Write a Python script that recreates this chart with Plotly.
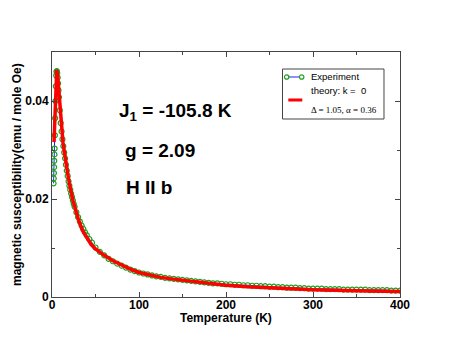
import plotly.graph_objects as go

# experiment: temperature (K) and susceptibility (emu / mole Oe)
exp_T = [1.8, 2.0, 2.2, 2.4, 2.6, 2.8, 3.0, 3.3, 3.6, 4.0, 4.4, 4.8, 5.2, 5.6, 6.0, 6.5,
         7.0, 7.5, 8.0, 9.0, 10, 11, 12, 13, 14, 15, 16, 17, 18, 19, 20, 21, 22, 23, 24,
         25, 26, 28, 30, 32, 34, 36, 38, 40, 43, 46, 50, 55, 60, 65, 70, 75, 80, 85, 90,
         95, 100, 105, 110, 115, 120, 125, 130, 135, 140, 145, 150, 155, 160, 165, 170,
         175, 180, 185, 190, 195, 200, 205, 210, 215, 220, 225, 230, 235, 240, 245, 250,
         255, 260, 265, 270, 275, 280, 285, 290, 295, 300, 305, 310, 315, 320, 325, 330,
         335, 340, 345, 350, 355, 360, 365, 370, 375, 380, 385, 390, 395, 400]
exp_chi = [0.0232, 0.0242, 0.0253, 0.0265, 0.0278, 0.0291, 0.0303, 0.0330, 0.0365, 0.0400,
           0.0430, 0.0452, 0.0460, 0.0461, 0.0457, 0.0448, 0.0436, 0.0422, 0.0408, 0.0381,
           0.0355, 0.0338, 0.0322, 0.0308, 0.0295, 0.0283, 0.0270, 0.0258, 0.0247, 0.0236,
           0.0227, 0.0219, 0.0211, 0.0204, 0.0197, 0.0190, 0.0184, 0.0173, 0.0163, 0.0154,
           0.0146, 0.0139, 0.0132, 0.0126, 0.0118, 0.0111, 0.0101, 0.0092, 0.0085, 0.0078,
           0.0073, 0.0068, 0.0064, 0.0060, 0.0056, 0.0053, 0.0050, 0.0048, 0.0046, 0.0044,
           0.0042, 0.0041, 0.0039, 0.0038, 0.0037, 0.0036, 0.0035, 0.0034, 0.0033, 0.0032,
           0.0031, 0.0030, 0.0029, 0.0028, 0.0028, 0.0027, 0.0026, 0.0026, 0.0025, 0.0025,
           0.0024, 0.0024, 0.0023, 0.0023, 0.0022, 0.0022, 0.0021, 0.0021, 0.0020, 0.0020,
           0.0019, 0.0019, 0.0019, 0.0018, 0.0018, 0.0017, 0.0017, 0.0017, 0.0017, 0.0016,
           0.0016, 0.0016, 0.0016, 0.0015, 0.0015, 0.0015, 0.0015, 0.0015, 0.0015, 0.0014,
           0.0014, 0.0014, 0.0014, 0.0014, 0.0013, 0.0013, 0.0013]

# theory curve (k = 0)
th_T = [2.3, 3, 3.5, 4, 4.5, 5, 5.4, 5.8, 6.2, 6.7, 7.3, 8, 9, 10, 11, 12.6, 14, 15,
        16.5, 18.4, 20, 22, 24, 26, 28, 30, 35, 40, 45, 50, 55, 60, 70, 80, 90, 100, 112,
        125, 137, 150, 175, 200, 225, 250, 300, 350, 400]
th_chi = [0.0316, 0.0360, 0.0392, 0.0422, 0.0443, 0.0455, 0.0460, 0.0460, 0.0456, 0.0448,
          0.0434, 0.0415, 0.0388, 0.0362, 0.0340, 0.0316, 0.0299, 0.0285, 0.0266, 0.0248,
          0.0232, 0.0212, 0.0197, 0.0185, 0.0172, 0.0160, 0.0136, 0.0120, 0.0107, 0.0098,
          0.0091, 0.0085, 0.0074, 0.0065, 0.0057, 0.0050, 0.0045, 0.0040, 0.0037, 0.0034,
          0.0028, 0.0024, 0.0021, 0.0019, 0.0015, 0.0013, 0.0011]

FONT = "Liberation Sans, Arial, Helvetica, sans-serif"
SERIF = "Liberation Serif, Times New Roman, serif"
GREEN = '#1e9e1e'
BLUE = '#2020ff'
RED = '#ff0000'

fig = go.Figure()

fig.add_trace(go.Scatter(
    x=exp_T, y=exp_chi,
    mode='lines+markers',
    name='Experiment',
    line=dict(color=BLUE, width=1),
    marker=dict(symbol='circle-open', size=5, color=GREEN, line=dict(width=1.2)),
    showlegend=False,
))

fig.add_trace(go.Scatter(
    x=th_T, y=th_chi,
    mode='lines',
    name='theory: k = 0',
    line=dict(color=RED, width=3.5),
    showlegend=False,
))

# parameter labels
for txt, px, py in [("J<sub>1</sub> = -105.8 K", 0.187, 0.755),
                    ("g = 2.09", 0.205, 0.60),
                    ("H II b", 0.208, 0.445)]:
    fig.add_annotation(x=px, y=py, xref='paper', yref='paper', text=txt,
                       showarrow=False, xanchor='left', yanchor='middle',
                       font=dict(family=FONT, size=19, color='black', weight='bold'))

# legend box drawn by hand (grace style)
fig.add_shape(type='rect', xref='paper', yref='paper', x0=0.6624, x1=0.954,
              y0=0.7265, y1=0.9306, line=dict(color='#444', width=1),
              fillcolor='white')
fig.add_shape(type='line', xref='paper', yref='paper', x0=0.6744, x1=0.7175,
              y0=0.898, y1=0.898, line=dict(color=BLUE, width=1))
for cx in (0.6744, 0.7175):
    fig.add_shape(type='circle', xref='paper', yref='paper',
                  xsizemode='pixel', ysizemode='pixel', xanchor=cx, yanchor=0.898,
                  x0=-2.2, x1=2.2, y0=-2.2, y1=2.2,
                  line=dict(color=GREEN, width=1.2), fillcolor='white')
fig.add_shape(type='line', xref='paper', yref='paper', x0=0.679, x1=0.7193,
              y0=0.8041, y1=0.8041, line=dict(color=RED, width=3))
for txt, py, fam, sz in [("Experiment", 0.8992, FONT, 9.5),
                         ("theory: k =  0", 0.8429, FONT, 9.5),
                         ("\u0394 = 1.05, \u03b1 = 0.36", 0.7633, SERIF, 9)]:
    fig.add_annotation(x=0.7385, y=py, xref='paper', yref='paper', text=txt,
                       showarrow=False, xanchor='left', yanchor='middle',
                       font=dict(family=fam, size=sz, color='black'))

# axis titles
fig.add_annotation(x=0.5, y=-0.0875, xref='paper', yref='paper',
                   xanchor='center', yanchor='middle',
                   text='Temperature (K)', showarrow=False,
                   font=dict(family=FONT, size=12, color='black', weight='bold'))
fig.add_annotation(x=-0.102, y=0.5, xref='paper', yref='paper', textangle=-90,
                   xanchor='center', yanchor='middle',
                   text='magnetic susceptibility(emu / mole Oe)', showarrow=False,
                   font=dict(family=FONT, size=12, color='black', weight='bold'))

axis_common = dict(
    showline=True, linecolor='#444', linewidth=1, mirror='ticks',
    ticks='inside', ticklen=5, tickcolor='#444',
    showgrid=False, zeroline=False,
    tickfont=dict(family=FONT, size=12, color='black', weight='bold'),
)

fig.update_layout(
    width=451, height=349,
    margin=dict(l=44, r=59, t=44, b=60),
    plot_bgcolor='white', paper_bgcolor='white',
    font=dict(family=FONT, color='black'),
    xaxis=dict(range=[0, 400], dtick=100, ticklabelstandoff=-3,
               minor=dict(ticks='inside', ticklen=3, dtick=50, tickcolor='#444'),
               **axis_common),
    yaxis=dict(range=[0, 0.05], dtick=0.02,
               minor=dict(ticks='inside', ticklen=3, dtick=0.01, tickcolor='#444'),
               **axis_common),
    showlegend=False,
)

fig.write_html("out.html")
